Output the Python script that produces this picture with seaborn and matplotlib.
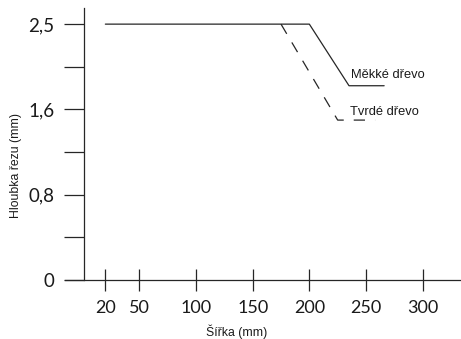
import numpy as np
import pandas as pd
import matplotlib
matplotlib.use("Agg")
import matplotlib.pyplot as plt
import seaborn as sns

# data
soft_x = [20, 200, 235, 266]
soft_y = [2.5, 2.5, 1.85, 1.85]
hard_x = [175, 225, 258]
hard_y = [2.5, 1.5, 1.5]

x_ticks = [20, 50, 100, 150, 200, 250, 300]
y_ticks = [0, 0.8, 1.6, 2.5]
y_tick_labels = ["0", "0,8", "1,6", "2,5"]
y_minor = [0.4, 1.2, 2.05]

sns.set_theme(style="white")
plt.rcParams["font.family"] = ["Liberation Sans", "DejaVu Sans"]

# the y axis is evenly spaced between labelled depths
pos = [0, 1, 2, 3, 4]
val = [0, 0.8, 1.6, 2.5, 3.4]
fwd = lambda v: np.interp(v, val, pos)
inv = lambda p: np.interp(p, pos, val)

fig = plt.figure(figsize=(4.61, 3.39), dpi=100)
ax = fig.add_axes([0.141, 0.174, 0.857, 0.8015])
ax.set_yscale("function", functions=(fwd, inv))

soft = pd.DataFrame({"x": soft_x, "y": soft_y})
hard = pd.DataFrame({"x": hard_x, "y": hard_y})
c = "#262626"
sns.lineplot(data=soft, x="x", y="y", ax=ax, color=c, lw=0.9, sort=False)
sns.lineplot(data=hard, x="x", y="y", ax=ax, color=c, lw=0.9, sort=False,
             linestyle=(0, (9, 8)))

ax.set_xlim(-15.6, 333)
ax.set_ylim(0, 2.667)

ax.spines["right"].set_visible(False)
ax.spines["top"].set_visible(False)
ax.spines["left"].set_position(("data", 1.2))
for s in ["left", "bottom"]:
    ax.spines[s].set_color(c)
    ax.spines[s].set_linewidth(0.9)

ax.set_xticks(x_ticks)
ax.set_yticks(y_ticks)
ax.set_yticklabels(y_tick_labels)
ax.set_yticks(y_minor, minor=True)
ax.tick_params(axis="x", direction="inout", length=16.5, width=0.9, color=c,
               labelsize=13, pad=6, bottom=True, labelcolor="#1a1a1a")
ax.tick_params(axis="y", which="both", direction="out", length=14.4, width=0.9,
               color=c, labelsize=13.5, pad=7, left=True, labelcolor="#1a1a1a")
for lab in ax.get_xticklabels() + ax.get_yticklabels():
    lab.set_family(["Lato", "DejaVu Sans"])

ax.set_xlabel("Šířka (mm)", fontsize=8.8, color="#1a1a1a")
ax.set_ylabel("Hloubka řezu (mm)", fontsize=8.8, color="#1a1a1a")
ax.xaxis.set_label_coords(0.435, -0.163)
ax.yaxis.set_label_coords(-0.108, 0.42)

ax.text(237, 1.96, "Měkké dřevo", fontsize=9.3, color="#1a1a1a", va="center")
ax.text(236, 1.58, "Tvrdé dřevo", fontsize=9.3, color="#1a1a1a", va="center")

fig.savefig("out.png", dpi=100)
